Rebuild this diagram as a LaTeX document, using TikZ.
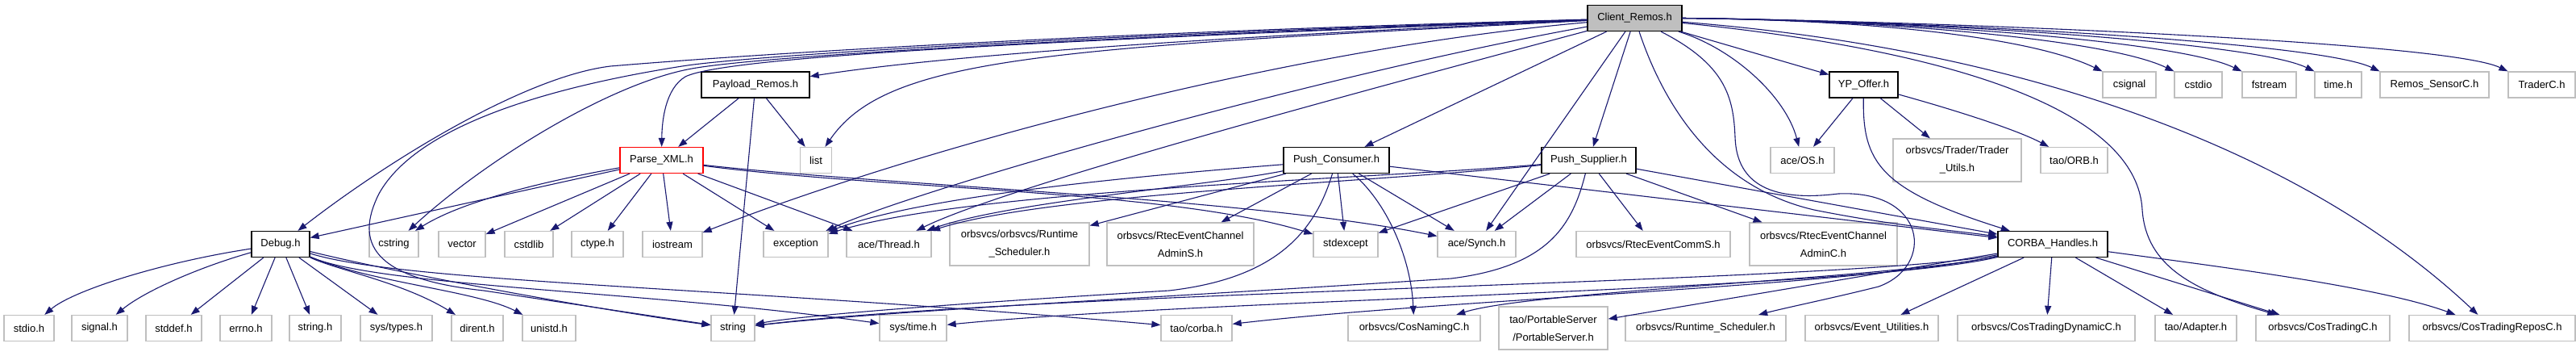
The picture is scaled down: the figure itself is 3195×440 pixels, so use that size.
\documentclass[tikz,border=0pt]{standalone}
\usepackage{fontspec}
\setmainfont{Liberation Sans}
\usetikzlibrary{arrows.meta}
\definecolor{edgeBlue}{HTML}{191970}
\definecolor{boxGray}{HTML}{BFBFBF}
\begin{document}
\begin{tikzpicture}[x=0.5pt, y=-0.5pt,
  every node/.style={font=\fontsize{6.5}{11}\selectfont, inner sep=0pt, minimum height=16pt, align=center},
  hdr/.style={draw=boxGray, line width=0.65pt, minimum width=#1*0.5pt},
  doc/.style={draw=black, line width=0.65pt, minimum width=#1*0.5pt},
  tall/.style={minimum height=26.5pt},
  dep/.style={-{Triangle[length=5.5pt,width=4pt]}, edgeBlue, line width=0.55pt}]
  \fill[white] (0,0) rectangle (3195,440);
  \useasboundingbox (0,0) rectangle (3195,440);
  % Row 1
  \node[doc=117, fill=boxGray] (crem) at (2027.5,22.5) {Client\_Remos.h};
  % Row 2
  \node[doc=134] (pay) at (937,105) {Payload\_Remos.h};
  \node[doc=85] (yp) at (2311.5,105) {YP\_Offer.h};
  \node[hdr=66] (csignal) at (2641,105) {csignal};
  \node[hdr=59] (cstdio) at (2726.5,105) {cstdio};
  \node[hdr=67] (fstream) at (2814.5,105) {fstream};
  \node[hdr=58] (timeh) at (2900,105) {time.h};
  \node[hdr=135] (remos) at (3019.5,105) {Remos\_SensorC.h};
  \node[hdr=83] (trader) at (3152.5,105) {TraderC.h};
  % Row 3
  \node[doc=103, draw=red] (parse) at (820.5,198.5) {Parse\_XML.h};
  \node[hdr=39] (list) at (1012,198.5) {list};
  \node[doc=131] (pcons) at (1657.5,198.5) {Push\_Consumer.h};
  \node[doc=117] (psup) at (1970.5,198.5) {Push\_Supplier.h};
  \node[hdr=79] (aceos) at (2235.5,198.5) {ace/OS.h};
  \node[hdr=159, tall] (tutils) at (2427.5,198.5) {orbsvcs/Trader/Trader\\\_Utils.h};
  \node[hdr=83] (taoorb) at (2572.5,198.5) {tao/ORB.h};
  % Row 4
  \node[doc=72] (debug) at (348,302.5) {Debug.h};
  \node[hdr=61] (cstring) at (488.5,302.5) {cstring};
  \node[hdr=58] (vector) at (573,302.5) {vector};
  \node[hdr=60] (cstdlib) at (656,302.5) {cstdlib};
  \node[hdr=64] (ctype) at (741,302.5) {ctype.h};
  \node[hdr=74] (iostream) at (834,302.5) {iostream};
  \node[hdr=80] (exception) at (987,302.5) {exception};
  \node[hdr=105] (thread) at (1102.5,302.5) {ace/Thread.h};
  \node[hdr=173, tall] (rtsched2) at (1264.5,302.5) {orbsvcs/orbsvcs/Runtime\\\_Scheduler.h};
  \node[hdr=182, tall] (adminS) at (1464,302.5) {orbsvcs/RtecEventChannel\\AdminS.h};
  \node[hdr=80] (stdexcept) at (1669,302.5) {stdexcept};
  \node[hdr=97] (synch) at (1831.5,302.5) {ace/Synch.h};
  \node[hdr=191] (commS) at (2050.5,302.5) {orbsvcs/RtecEventCommS.h};
  \node[hdr=183, tall] (adminC) at (2261.5,302.5) {orbsvcs/RtecEventChannel\\AdminC.h};
  \node[doc=136] (corba) at (2546,302.5) {CORBA\_Handles.h};
  % Row 5
  \node[hdr=62] (stdio) at (36,406.5) {stdio.h};
  \node[hdr=69] (signal) at (123.5,406.5) {signal.h};
  \node[hdr=69] (stddef) at (215.5,406.5) {stddef.h};
  \node[hdr=64] (errno) at (305,406.5) {errno.h};
  \node[hdr=64] (stringh) at (391,406.5) {string.h};
  \node[hdr=89] (systypes) at (491.5,406.5) {sys/types.h};
  \node[hdr=64] (dirent) at (592,406.5) {dirent.h};
  \node[hdr=66] (unistd) at (681,406.5) {unistd.h};
  \node[hdr=54] (string) at (909,406.5) {string};
  \node[hdr=83] (systime) at (1132.5,406.5) {sys/time.h};
  \node[hdr=88] (taocorba) at (1484,406.5) {tao/corba.h};
  \node[hdr=164] (cosnaming) at (1754,406.5) {orbsvcs/CosNamingC.h};
  \node[hdr=135, tall] (portable) at (1926.5,406.5) {tao/PortableServer\\/PortableServer.h};
  \node[hdr=199] (rtsched) at (2115.5,406.5) {orbsvcs/Runtime\_Scheduler.h};
  \node[hdr=165] (evutil) at (2321.5,406.5) {orbsvcs/Event\_Utilities.h};
  \node[hdr=220] (ctdyn) at (2538,406.5) {orbsvcs/CosTradingDynamicC.h};
  \node[hdr=101] (adapter) at (2723.5,406.5) {tao/Adapter.h};
  \node[hdr=166] (costrading) at (2881,406.5) {orbsvcs/CosTradingC.h};
  \node[hdr=206] (ctrepos) at (3091,406.5) {orbsvcs/CosTradingReposC.h};
  % Client_Remos.h
  \draw[dep] (crem) .. controls (1300,55) and (1100,80) .. (pay);
  \draw[dep] (crem) .. controls (1300,50) and (900,70) .. (850,95)
    .. controls (825,110) and (821,150) .. (parse);
  \draw[dep] (crem) .. controls (1300,42) and (900,70) .. (757,82)
    .. controls (650,95) and (480,200) .. (debug);
  \draw[dep] (crem) .. controls (1300,48) and (950,70) .. (864,84)
    .. controls (760,100) and (600,200) .. (cstring);
  \draw[dep] (crem) .. controls (1300,45) and (920,70) .. (846,82)
    .. controls (700,105) and (520,150) .. (470,240)
    .. controls (440,300) and (460,345) .. (600,360) -- (string);
  \draw[dep] (crem) .. controls (1300,60) and (1100,70) .. (list);
  \draw[dep] (crem) .. controls (1600,60) and (1150,180) .. (iostream);
  \draw[dep] (crem) .. controls (1650,90) and (1150,230) .. (exception);
  \draw[dep] (crem) .. controls (1700,110) and (1250,230) .. (thread);
  \draw[dep] (crem) -- (pcons);
  \draw[dep] (crem) -- (synch);
  \draw[dep] (crem) -- (psup);
  \draw[dep] (crem) .. controls (2060,120) and (2120,230) .. (2250,260)
    .. controls (2350,280) and (2420,285) .. (corba);
  \draw[dep] (crem) .. controls (2140,80) and (2150,120) .. (2152,170)
    .. controls (2154,230) and (2200,250) .. (2280,240)
    .. controls (2390,235) and (2400,330) .. (2330,355)
    .. controls (2270,370) and (2220,380) .. (rtsched);
  \draw[dep] (crem) .. controls (2150,60) and (2215,120) .. (aceos);
  \draw[dep] (crem) -- (yp);
  \draw[dep] (crem) .. controls (2400,60) and (2650,130) .. (2657,260)
    .. controls (2662,330) and (2720,360) .. (costrading);
  \draw[dep] (crem) .. controls (2500,60) and (2850,180) .. (ctrepos);
  \foreach \t/\x in {csignal/2608, cstdio/2697, fstream/2781, timeh/2871, remos/2952, trader/3111}
    \draw[dep] (crem.east) .. controls (2350,25) and (\x-80,50) .. (\t.north west);
  % Payload_Remos.h
  \draw[dep] (pay) -- (parse);
  \draw[dep] (pay) -- (string);
  \draw[dep] (pay) -- (list);
  % YP_Offer.h
  \draw[dep] (yp) -- (aceos);
  \draw[dep] (yp) -- (tutils);
  \draw[dep] (yp) .. controls (2420,135) and (2500,160) .. (taoorb);
  \draw[dep] (yp) .. controls (2310,200) and (2330,235) .. (corba);
  % Parse_XML.h
  \draw[dep] (parse) -- (debug);
  \draw[dep] (parse) .. controls (700,220) and (580,245) .. (cstring);
  \draw[dep] (parse) -- (vector);
  \draw[dep] (parse) -- (cstdlib);
  \draw[dep] (parse) -- (ctype);
  \draw[dep] (parse) -- (iostream);
  \draw[dep] (parse) -- (exception);
  \draw[dep] (parse) -- (thread);
  \draw[dep] (parse) .. controls (1100,235) and (1450,235) .. (stdexcept);
  \draw[dep] (parse) .. controls (1100,230) and (1550,245) .. (synch);
  % Push_Consumer.h
  \draw[dep] (pcons) .. controls (1450,215) and (1150,240) .. (exception);
  \draw[dep] (pcons) .. controls (1500,230) and (1250,250) .. (thread);
  \draw[dep] (pcons) -- (rtsched2);
  \draw[dep] (pcons) -- (adminS);
  \draw[dep] (pcons) .. controls (1630,290) and (1580,345) .. (1450,360)
    .. controls (1200,375) and (1000,390) .. (string);
  \draw[dep] (pcons) -- (stdexcept);
  \draw[dep] (pcons) .. controls (1720,250) and (1750,320) .. (cosnaming);
  \draw[dep] (pcons) -- (synch);
  \draw[dep] (pcons) -- (corba);
  % Push_Supplier.h
  \draw[dep] (psup) .. controls (1700,222) and (1200,235) .. (exception);
  \draw[dep] (psup) .. controls (1700,226) and (1300,240) .. (thread);
  \draw[dep] (psup) -- (stdexcept);
  \draw[dep] (psup) -- (synch);
  \draw[dep] (psup) .. controls (1950,280) and (1920,330) .. (1800,345)
    .. controls (1500,365) and (1100,385) .. (string);
  \draw[dep] (psup) -- (commS);
  \draw[dep] (psup) -- (adminC);
  \draw[dep] (psup) -- (corba);
  % CORBA_Handles.h
  \draw[dep] (corba) .. controls (2300,350) and (1300,360) .. (string);
  \draw[dep] (corba) .. controls (2300,360) and (1500,370) .. (systime);
  \draw[dep] (corba) .. controls (2300,355) and (1800,370) .. (taocorba);
  \draw[dep] (corba) .. controls (2350,345) and (1900,360) .. (cosnaming);
  \draw[dep] (corba) -- (portable);
  \draw[dep] (corba) -- (evutil);
  \draw[dep] (corba) -- (ctdyn);
  \draw[dep] (corba) -- (adapter);
  \draw[dep] (corba) -- (costrading);
  \draw[dep] (corba) .. controls (2750,330) and (2950,355) .. (ctrepos);
  % Debug.h
  \draw[dep] (debug) .. controls (200,325) and (90,360) .. (stdio);
  \draw[dep] (debug) .. controls (250,330) and (180,360) .. (signal);
  \draw[dep] (debug) -- (stddef);
  \draw[dep] (debug) -- (errno);
  \draw[dep] (debug) -- (stringh);
  \draw[dep] (debug) -- (systypes);
  \draw[dep] (debug) .. controls (420,335) and (500,350) .. (dirent);
  \draw[dep] (debug) .. controls (460,350) and (590,360) .. (unistd);
  \draw[dep] (debug) .. controls (500,340) and (750,385) .. (string);
  \draw[dep] (debug) .. controls (470,355) and (800,360) .. (systime);
  \draw[dep] (debug) .. controls (500,350) and (900,355) .. (taocorba);
\end{tikzpicture}
\end{document}
